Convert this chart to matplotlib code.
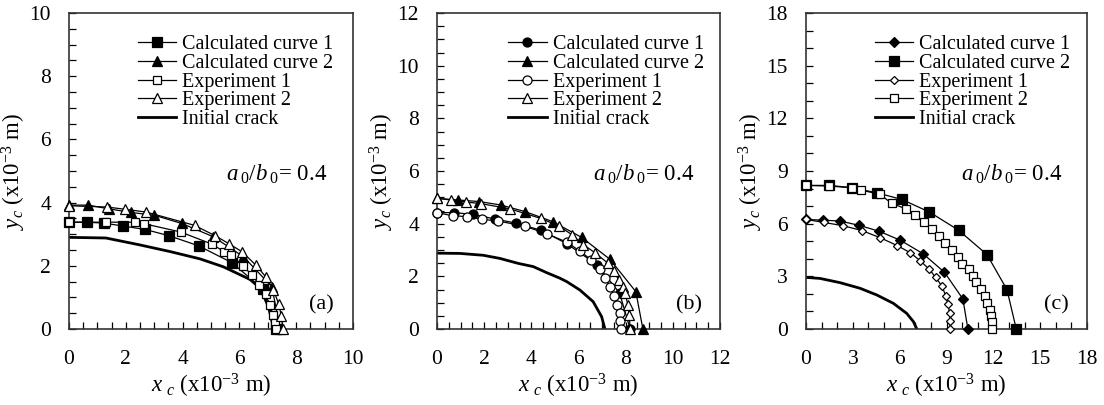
import matplotlib
matplotlib.use("Agg")
import matplotlib.pyplot as plt
from matplotlib.ticker import MultipleLocator

plt.rcParams['font.family'] = ['Liberation Serif', 'DejaVu Serif']
plt.rcParams['mathtext.fontset'] = 'custom'
plt.rcParams['mathtext.rm'] = 'Liberation Serif'
plt.rcParams['mathtext.it'] = 'Liberation Serif:italic'

# ---------------- Panel (a) ----------------
a_calc1_x = [0, 0.64, 1.24, 1.89, 2.68, 3.53, 4.57, 5.73, 6.84, 7.3]
a_calc1_y = [3.38, 3.38, 3.35, 3.26, 3.15, 2.95, 2.63, 2.10, 1.26, 0]
a_calc2_x = [0, 0.68, 1.42, 2.17, 3.0, 3.97, 5.08, 6.14, 7.14, 7.44]
a_calc2_y = [3.92, 3.92, 3.80, 3.69, 3.60, 3.34, 2.92, 2.29, 1.34, 0]
a_exp1_x = [0, 1.32, 2.32, 2.65, 3.93, 5.05, 5.45, 5.70, 6.12, 6.45, 6.70, 6.92, 7.08, 7.18, 7.25, 7.3]
a_exp1_y = [3.38, 3.38, 3.38, 3.33, 3.07, 2.68, 2.45, 2.33, 2.00, 1.70, 1.40, 1.10, 0.75, 0.45, 0.2, 0]
a_exp2_x = [0, 1.34, 1.96, 2.72, 4.42, 5.15, 5.65, 6.10, 6.58, 6.92, 7.2, 7.38, 7.48, 7.53]
a_exp2_y = [3.90, 3.86, 3.79, 3.70, 3.28, 2.95, 2.69, 2.44, 2.02, 1.66, 1.24, 0.8, 0.4, 0]
a_init_x = [0, 1.3, 2.5, 3.56, 4.61, 5.43, 6.37, 6.67, 6.85, 7.02, 7.12, 7.2]
a_init_y = [2.9, 2.88, 2.66, 2.45, 2.22, 1.97, 1.57, 1.34, 1.05, 0.71, 0.35, 0]

# ---------------- Panel (b) ----------------
b_calc1_x = [0, 0.73, 1.53, 2.45, 3.35, 4.41, 5.5, 6.78, 7.74, 8.19]
b_calc1_y = [4.42, 4.42, 4.35, 4.18, 4.02, 3.75, 3.24, 2.44, 1.37, 0]
b_calc2_x = [0, 0.88, 1.79, 2.7, 3.73, 4.9, 6.13, 7.33, 8.43, 8.73]
b_calc2_y = [4.96, 4.90, 4.84, 4.71, 4.46, 4.08, 3.48, 2.65, 1.42, 0]
b_exp1_x = [0, 0.66, 1.26, 1.89, 2.6, 3.73, 4.65, 5.5, 6.07, 6.55, 6.92, 7.13, 7.34, 7.52, 7.65, 7.74, 7.78, 7.8]
b_exp1_y = [4.42, 4.30, 4.27, 4.17, 4.10, 3.90, 3.62, 3.3, 2.95, 2.62, 2.28, 1.94, 1.6, 1.27, 0.92, 0.61, 0.3, 0]
b_exp2_x = [0, 0.6, 1.25, 1.88, 3.1, 4.4, 5.19, 5.72, 6.21, 6.71, 7.23, 7.5, 7.7, 7.88, 7.98, 8.09, 8.15, 8.19]
b_exp2_y = [4.96, 4.9, 4.82, 4.76, 4.56, 4.2, 3.9, 3.58, 3.2, 2.89, 2.51, 2.2, 1.87, 1.6, 1.37, 0.92, 0.54, 0]
b_init_x = [0, 0.97, 1.96, 2.67, 3.45, 4.08, 4.65, 5.21, 5.5, 6.06, 6.62, 6.98, 7.12]
b_init_y = [2.88, 2.87, 2.8, 2.68, 2.49, 2.37, 2.14, 1.93, 1.8, 1.48, 1.04, 0.47, 0]

# ---------------- Panel (c) ----------------
c_calc1_x = [0, 1.07, 2.18, 3.42, 4.68, 6.03, 7.48, 8.87, 10.05, 10.37]
c_calc1_y = [6.24, 6.2, 6.15, 5.9, 5.57, 5.06, 4.3, 3.23, 1.71, 0]
c_calc2_x = [0, 1.5, 2.93, 4.53, 6.14, 7.91, 9.77, 11.59, 12.87, 13.47]
c_calc2_y = [8.18, 8.18, 8.05, 7.76, 7.38, 6.66, 5.63, 4.24, 2.25, 0]
c_exp1_x = [0, 1.15, 2.4, 3.6, 4.75, 5.85, 6.67, 7.3, 7.9, 8.3, 8.7, 8.95, 9.1, 9.2, 9.25, 9.25]
c_exp1_y = [6.24, 6.07, 5.88, 5.6, 5.2, 4.75, 4.35, 3.9, 3.4, 2.95, 2.45, 1.9, 1.4, 0.9, 0.45, 0]
c_exp2_x = [0, 1.5, 2.93, 3.53, 4.75, 5.49, 6.39, 6.99, 7.59, 8.1, 8.53, 8.91, 9.34, 9.73, 9.98,
            10.41, 10.67, 10.88, 11.22, 11.44, 11.59, 11.76, 11.86, 11.91, 11.91]
c_exp2_y = [8.18, 8.14, 8.05, 7.91, 7.67, 7.15, 6.85, 6.47, 6.09, 5.67, 5.29, 4.91, 4.49, 4.11, 3.73,
            3.42, 3.04, 2.66, 2.28, 1.86, 1.48, 1.1, 0.72, 0.38, 0]
c_init_x = [0, 0.9, 2.18, 3.46, 4.53, 5.6, 6.45, 6.88, 7.1]
c_init_y = [2.94, 2.88, 2.64, 2.32, 1.94, 1.46, 0.89, 0.42, 0]

labels = ['Calculated curve 1', 'Calculated curve 2', 'Experiment 1', 'Experiment 2', 'Initial crack']
panel_tags = ['(a)', '(b)', '(c)']
axis_max = [10, 12, 18]
major_step = [2, 2, 3]
minor_step = [0.5, 0.5, 1]

W, H = 1104, 405
fig = plt.figure(figsize=(W / 100, H / 100), dpi=100)
rects = [(69, 353), (437, 720), (806, 1087)]
top, bottom = 13, 329

panels = [
    dict(series=[(a_calc1_x, a_calc1_y, 's', 'k', 6.5),
                 (a_calc2_x, a_calc2_y, '^', 'k', 7.0),
                 (a_exp1_x, a_exp1_y, 's', 'white', 6.0),
                 (a_exp2_x, a_exp2_y, '^', 'white', 6.5)],
         init=(a_init_x, a_init_y), legx=0.243),
    dict(series=[(b_calc1_x, b_calc1_y, 'o', 'k', 6.5),
                 (b_calc2_x, b_calc2_y, '^', 'k', 7.0),
                 (b_exp1_x, b_exp1_y, 'o', 'white', 6.5),
                 (b_exp2_x, b_exp2_y, '^', 'white', 6.5)],
         init=(b_init_x, b_init_y), legx=0.252),
    dict(series=[(c_calc1_x, c_calc1_y, 'D', 'k', 5.0),
                 (c_calc2_x, c_calc2_y, 's', 'k', 6.5),
                 (c_exp1_x, c_exp1_y, 'D', 'white', 4.5),
                 (c_exp2_x, c_exp2_y, 's', 'white', 6.0)],
         init=(c_init_x, c_init_y), legx=0.246),
]

for i, p in enumerate(panels):
    l, r = rects[i]
    ax = fig.add_axes([l / W, (H - bottom) / H, (r - l) / W, (bottom - top) / H])
    for (xs, ys, mk, fc, ms), lab in zip(p['series'], labels[:4]):
        ax.plot(xs, ys, color='k', lw=0.9, marker=mk, ms=ms, mfc=fc, mec='k', mew=0.9,
                label=lab, clip_on=False, zorder=3)
    ix, iy = p['init']
    ax.plot(ix, iy, color='k', lw=2.0, label=labels[4], zorder=2)

    m = axis_max[i]
    ax.set_xlim(0, m)
    ax.set_ylim(0, m)
    ax.xaxis.set_major_locator(MultipleLocator(major_step[i]))
    ax.yaxis.set_major_locator(MultipleLocator(major_step[i]))
    ax.xaxis.set_minor_locator(MultipleLocator(minor_step[i]))
    ax.yaxis.set_minor_locator(MultipleLocator(minor_step[i]))
    ax.tick_params(which='both', direction='in', length=5, width=0.9, top=False, right=False)
    ax.tick_params(axis='x', which='major', pad=15, labelsize=15.5)
    ax.tick_params(axis='y', which='major', pad=13, labelsize=15.5)
    for s in ax.spines.values():
        s.set_linewidth(1.2)
        s.set_color('#333333')

    ax.set_xlabel(r'$x\;{}_c$ (x10$^{-3}$ m)', fontsize=16.5, labelpad=2)
    ax.set_ylabel(r'$y_c$ (x10$^{-3}$ m)', fontsize=16.5, labelpad=1)

    ax.legend(loc='upper left', bbox_to_anchor=(p['legx'], 0.93), frameon=False,
              fontsize=14.5, numpoints=1, handlelength=1.9, handletextpad=0.3,
              labelspacing=-0.02, borderpad=0, borderaxespad=0)

    ax.text(0.91, 0.49, r'$a\,{}_{\mathit{0}}/b\,{}_{\mathit{0}}$= 0.4', transform=ax.transAxes,
            ha='right', va='center', fontsize=16.5)
    ax.text(0.89, 0.076, panel_tags[i], transform=ax.transAxes, ha='center', va='center',
            fontsize=16)

fig.savefig('out.png', dpi=100)
